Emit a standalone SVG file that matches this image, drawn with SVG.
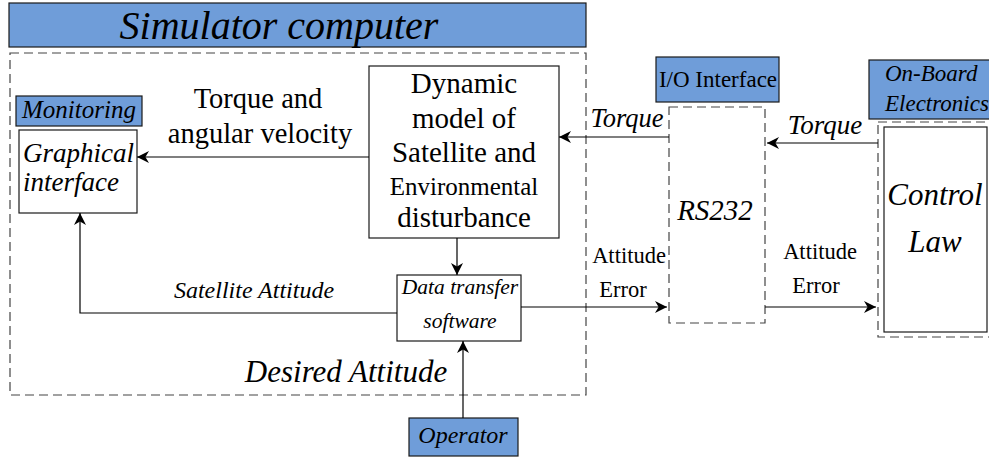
<svg xmlns="http://www.w3.org/2000/svg" width="989" height="457" viewBox="0 0 989 457">
<defs>
<marker id="ah" viewBox="0 0 10 10" refX="10" refY="5" markerWidth="12" markerHeight="12" markerUnits="userSpaceOnUse" orient="auto">
<path d="M0,0 L10,5 L0,10 L3,5 Z" fill="#000"/>
</marker>
<style>
.blue{fill:#6F9DD9;stroke:#1a1a1a;stroke-width:1.2}
.box{fill:#fff;stroke:#1a1a1a;stroke-width:1.2}
.dash{fill:none;stroke:#444;stroke-width:1.2;stroke-dasharray:9,5}
.ln{fill:none;stroke:#000;stroke-width:1.2}
text{font-family:'Liberation Serif','Times New Roman',serif;fill:#000}
.i{font-style:italic}
.c{text-anchor:middle}
</style>
</defs>
<rect width="989" height="457" fill="#fff"/>
<g id="simulator">
<rect class="blue" x="9" y="3" width="577" height="44"/>
<text class="i c" x="279" y="39" font-size="40">Simulator computer</text>
<rect class="dash" x="10" y="53" width="576" height="342"/>
<text class="i c" x="346" y="382" font-size="31">Desired Attitude</text>
</g>
<g id="monitoring">
<rect class="blue" x="16" y="96" width="126" height="30"/>
<text class="i c" x="79" y="118" font-size="25">Monitoring</text>
</g>
<g id="graphical">
<rect class="box" x="19" y="130" width="118" height="83"/>
<text class="i" x="23" y="162" font-size="27">Graphical</text>
<text class="i" x="23" y="191" font-size="27">interface</text>
</g>
<g id="dynamic">
<rect class="box" x="369" y="66" width="190" height="172"/>
<text class="c" x="464" y="93" font-size="29">Dynamic</text>
<text class="c" x="464" y="128" font-size="29">model of</text>
<text class="c" x="464" y="162" font-size="29">Satellite and</text>
<text class="c" x="464" y="195" font-size="25">Environmental</text>
<text class="c" x="464" y="227" font-size="29">disturbance</text>
</g>
<g id="datatransfer">
<rect class="box" x="397" y="275" width="124" height="66"/>
<text class="i c" x="460" y="294" font-size="21.5">Data transfer</text>
<text class="i c" x="460" y="328" font-size="21.5">software</text>
</g>
<g id="operator">
<rect class="blue" x="409" y="418" width="109" height="38"/>
<text class="i c" x="463" y="443" font-size="24">Operator</text>
</g>
<g id="io">
<rect class="blue" x="656" y="57" width="123" height="45"/>
<text class="c" x="718" y="87" font-size="23">I/O Interface</text>
<rect class="dash" x="669" y="107" width="96" height="216"/>
<text class="i c" x="715" y="220" font-size="29">RS232</text>
</g>
<g id="onboard">
<rect class="blue" x="869" y="60" width="125" height="59"/>
<text class="i" x="885" y="81" font-size="23">On-Board</text>
<text class="i" x="885" y="111" font-size="23">Electronics</text>
<rect class="dash" x="878" y="122" width="120" height="215"/>
<rect class="box" x="884" y="127" width="103" height="205"/>
<text class="i c" x="935" y="205" font-size="31">Control</text>
<text class="i c" x="935" y="252" font-size="31">Law</text>
</g>
<g id="connectors">
<line class="ln" x1="369" y1="157" x2="137" y2="157" marker-end="url(#ah)"/>
<text class="c" x="258" y="108" font-size="28.5">Torque and</text>
<text class="c" x="260" y="143" font-size="28.5">angular velocity</text>
<polyline class="ln" points="397,313 80,313 80,213" marker-end="url(#ah)"/>
<text class="i c" x="254" y="298" font-size="24">Satellite Attitude</text>
<line class="ln" x1="457" y1="238" x2="457" y2="275" marker-end="url(#ah)"/>
<line class="ln" x1="463" y1="418" x2="463" y2="341" marker-end="url(#ah)"/>
<line class="ln" x1="521" y1="307" x2="667" y2="307" marker-end="url(#ah)"/>
<line class="ln" x1="669" y1="137" x2="559" y2="137" marker-end="url(#ah)"/>
<text class="i c" x="627" y="127" font-size="26.5">Torque</text>
<text class="c" x="629" y="263" font-size="22.5">Attitude</text>
<text class="c" x="623" y="297" font-size="22.5">Error</text>
<line class="ln" x1="878" y1="143" x2="767" y2="143" marker-end="url(#ah)"/>
<text class="i c" x="825" y="134" font-size="27">Torque</text>
<text class="c" x="820" y="259" font-size="22.5">Attitude</text>
<text class="c" x="816" y="293" font-size="22.5">Error</text>
<line class="ln" x1="765" y1="307" x2="876" y2="307" marker-end="url(#ah)"/>
</g>
</svg>
